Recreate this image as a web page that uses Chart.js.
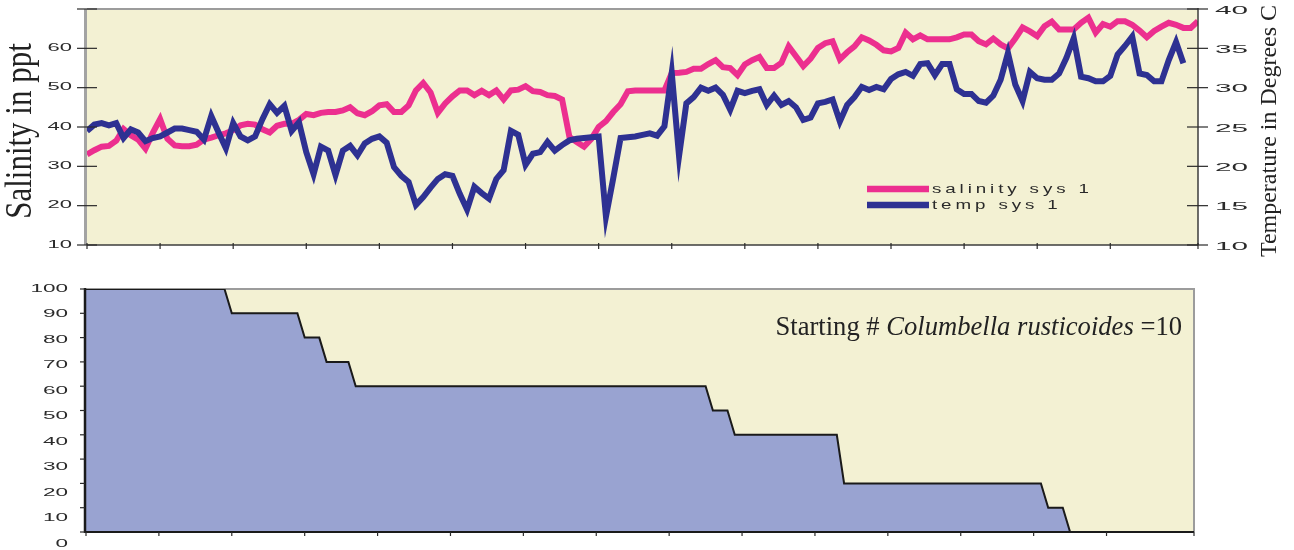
<!DOCTYPE html>
<html>
<head>
<meta charset="utf-8">
<script src="https://cdn.jsdelivr.net/npm/chart.js@4.4.1/dist/chart.umd.min.js"></script>
<style>
html, body { margin: 0; padding: 0; background: #fff; }
#wrap { position: relative; width: 1294px; height: 550px; overflow: hidden; }
#topChart { position: absolute; left: 0; top: 0; }
#bottomChart { position: absolute; left: 0; top: 270px; }
</style>
</head>
<body>
<div id="wrap">
  <canvas id="topChart" width="1294" height="260"></canvas>
  <canvas id="bottomChart" width="1294" height="280"></canvas>
</div>
<script>
// day index along the x axis (no labels in the original)
const days = Array.from({length: 153}, (_, i) => i);

const salinity = [
  33.0, 34.1, 35.0, 35.2, 36.5, 39.5, 37.9, 36.8, 34.5, 38.5,
  42.0, 37.0, 35.3, 35.1, 35.1, 35.5, 36.8, 37.3, 37.9, 38.4,
  39.2, 40.4, 40.8, 40.6, 39.4, 38.6, 40.3, 40.8, 40.8, 41.8,
  43.3, 43.0, 43.6, 43.8, 43.8, 44.2, 45.0, 43.5, 43.0, 44.0,
  45.5, 45.8, 43.8, 43.8, 45.5, 49.3, 51.2, 48.8, 43.6, 46.0,
  47.8, 49.3, 49.3, 48.1, 49.2, 48.1, 49.3, 47.0, 49.3, 49.5,
  50.4, 49.1, 48.9, 48.1, 47.9, 47.0, 37.5, 36.2, 35.0, 37.0,
  40.0, 41.5, 43.8, 45.8, 49.1, 49.3, 49.3, 49.3, 49.3, 49.3,
  53.7, 53.8, 54.0, 54.8, 54.8, 56.0, 57.0, 55.2, 55.0, 53.2,
  55.9, 57.0, 57.8, 55.0, 55.0, 56.3, 60.5, 58.0, 55.5, 57.4,
  60.1, 61.3, 61.8, 57.2, 59.0, 60.5, 62.8, 62.0, 60.9, 59.5,
  59.2, 60.1, 64.0, 62.3, 63.3, 62.3, 62.3, 62.3, 62.3, 62.8,
  63.5, 63.5, 61.8, 61.0, 62.5, 61.0, 60.0, 62.5, 65.3, 64.3,
  63.1, 65.6, 66.8, 64.8, 64.8, 64.8, 66.5, 67.8, 64.0, 66.2,
  65.5, 66.9, 66.9, 66.0, 64.5, 62.8, 64.4, 65.5, 66.5, 66.0,
  65.2, 65.2, 66.9
];

const temp = [
  24.5, 25.3, 25.5, 25.2, 25.5, 23.6, 24.7, 24.3, 23.2, 23.6,
  23.8, 24.3, 24.8, 24.8, 24.6, 24.4, 23.4, 26.4, 24.3, 22.3,
  25.5, 23.8, 23.3, 23.8, 26.0, 27.9, 26.8, 27.7, 24.5, 25.6,
  21.8, 19.0, 22.5, 22.0, 18.9, 22.0, 22.6, 21.4, 22.9, 23.5,
  23.8, 23.0, 19.9, 18.8, 18.0, 15.1, 16.1, 17.3, 18.4, 19.0,
  18.8, 16.5, 14.5, 17.4, 16.6, 15.9, 18.4, 19.5, 24.5, 24.0,
  20.2, 21.6, 21.8, 23.1, 22.0, 22.7, 23.3, 23.5, 23.6, 23.7,
  23.8, 13.6, 18.5, 23.6, 23.7, 23.8, 24.0, 24.2, 23.9, 25.1,
  31.9, 21.3, 28.0, 28.8, 30.0, 29.6, 30.0, 29.1, 27.2, 29.6,
  29.3, 29.6, 29.8, 27.8, 29.0, 27.8, 28.3, 27.5, 25.9, 26.2,
  28.0, 28.2, 28.5, 25.7, 27.8, 28.8, 30.1, 29.7, 30.1, 29.8,
  31.1, 31.7, 32.0, 31.5, 33.0, 33.1, 31.6, 33.0, 33.0, 29.8,
  29.2, 29.2, 28.3, 28.1, 29.0, 31.0, 34.4, 30.4, 28.3, 32.0,
  31.2, 31.0, 31.0, 31.8, 33.8, 36.3, 31.4, 31.2, 30.8, 30.8,
  31.5, 34.2, 35.3, 36.5, 31.8, 31.6, 30.8, 30.8, 33.5, 35.8,
  33.1
];

// survival (% of starting snails) at the days where it changes
const survivalDay = [0, 19, 20, 29, 30, 32, 33, 36, 37, 85, 86, 88, 89, 103, 104, 131, 132, 134, 135, 152];
const survivalPct = [100, 100, 90, 90, 80, 80, 70, 70, 60, 60, 50, 50, 40, 40, 20, 20, 10, 10, 0, 0];

const PLOT_BG = '#F3F1D3';
const PINK = '#EC2F8F';
const NAVY = '#2E3192';
const LAVENDER = '#99A3D1';
const INK = '#2a2a2a';

Chart.defaults.font.family = 'Liberation Sans';

function line(ctx, x1, y1, x2, y2, color, w) {
  ctx.save();
  ctx.strokeStyle = color;
  ctx.lineWidth = w;
  ctx.beginPath();
  ctx.moveTo(x1, y1);
  ctx.lineTo(x2, y2);
  ctx.stroke();
  ctx.restore();
}

// the original figure uses very wide lettering
function wideText(ctx, text, x, y, sx, align, font, spacing) {
  ctx.save();
  ctx.translate(x, y);
  ctx.scale(sx, 1);
  ctx.font = font;
  ctx.fillStyle = INK;
  ctx.textAlign = align;
  ctx.textBaseline = 'middle';
  if (spacing) ctx.letterSpacing = spacing + 'px';
  ctx.fillText(text, 0, 0);
  ctx.restore();
}

function fillArea(chart) {
  const {ctx, chartArea: a} = chart;
  ctx.save();
  ctx.fillStyle = PLOT_BG;
  ctx.fillRect(a.left, a.top, a.right - a.left, a.bottom - a.top);
  ctx.restore();
}

const topDecor = {
  id: 'topDecor',
  beforeDraw: fillArea,
  afterDraw(chart) {
    const {ctx, chartArea: a, scales} = chart;
    line(ctx, a.left, a.top, a.right, a.top, '#9c9c9c', 2);
    line(ctx, a.left - 1.5, a.top, a.left - 1.5, a.bottom, '#a3a3a3', 3);
    line(ctx, a.right, a.top - 1, a.right, a.bottom, '#3c3c3c', 1.5);
    line(ctx, a.left, a.bottom, a.right, a.bottom, '#3c3c3c', 1.5);

    scales.x.ticks.forEach(t => {
      const px = scales.x.getPixelForValue(t.value);
      line(ctx, px, a.bottom - 2, px, a.bottom + 4, INK, 1.2);
    });
    scales.y.ticks.forEach(t => {
      const py = scales.y.getPixelForValue(t.value);
      line(ctx, a.left - 10, py, a.left + 10, py, INK, 1.2);
      if (t.value < scales.y.max) wideText(ctx, String(t.value), a.left - 15, py, 2.2, 'right', '10px "Liberation Sans"');
    });
    scales.y1.ticks.forEach(t => {
      const py = scales.y1.getPixelForValue(t.value);
      line(ctx, a.right - 11, py, a.right + 10, py, INK, 1.2);
      wideText(ctx, String(t.value), a.right + 17, py + 1.5, 2.7, 'left', '11px "Liberation Sans"');
    });

    // axis titles
    ctx.save();
    ctx.fillStyle = '#222';
    ctx.font = '31px "Liberation Serif"';
    ctx.textAlign = 'center';
    ctx.textBaseline = 'middle';
    ctx.translate(21, (a.top + a.bottom) / 2 + 4);
    ctx.scale(1.25, 1);
    ctx.rotate(-Math.PI / 2);
    ctx.fillText('Salinity in ppt', 0, 0);
    ctx.restore();

    ctx.save();
    ctx.fillStyle = '#222';
    ctx.font = '24px "Liberation Serif"';
    ctx.textAlign = 'center';
    ctx.textBaseline = 'middle';
    ctx.translate(1270, 131);
    ctx.rotate(-Math.PI / 2);
    ctx.fillText('Temperature in Degrees C', 0, 0);
    ctx.restore();

    // legend
    const rows = [[chart.data.datasets[0], 189], [chart.data.datasets[1], 205]];
    rows.forEach(([ds, y]) => {
      line(ctx, 867, y, 929, y, ds.borderColor, 6.5);
      wideText(ctx, ds.label, 932, y + 1, 1.5, 'left', '12.5px "Liberation Sans"', 2.6);
    });
  }
};

new Chart(document.getElementById('topChart'), {
  type: 'line',
  data: {
    datasets: [
      {
        label: 'salinity sys 1',
        data: salinity.map((v, i) => ({x: days[i], y: v})),
        yAxisID: 'y',
        borderColor: PINK,
        borderWidth: 6,
        pointRadius: 0,
        order: 2,
      },
      {
        label: 'temp sys 1',
        data: temp.map((v, i) => ({x: days[i], y: v})),
        yAxisID: 'y1',
        borderColor: NAVY,
        borderWidth: 6,
        pointRadius: 0,
        order: 1,
      },
    ]
  },
  options: {
    responsive: false,
    animation: false,
    devicePixelRatio: 1,
    layout: { padding: { top: 9, left: 0, right: 0, bottom: 0 } },
    plugins: { legend: { display: false }, tooltip: { enabled: false } },
    scales: {
      x: {
        type: 'linear', min: 0, max: 152,
        ticks: { stepSize: 10, display: false },
        grid: { display: false }, border: { display: false },
        afterFit: s => { s.height = 15; },
      },
      y: {
        position: 'left', min: 10, max: 70,
        ticks: { stepSize: 10, display: false },
        grid: { display: false }, border: { display: false },
        afterFit: s => { s.width = 87; },
      },
      y1: {
        position: 'right', min: 10, max: 40,
        ticks: { stepSize: 5, display: false },
        grid: { display: false }, border: { display: false },
        afterFit: s => { s.width = 96; },
      },
    },
  },
  plugins: [topDecor],
});

const bottomDecor = {
  id: 'bottomDecor',
  beforeDraw: fillArea,
  beforeDatasetsDraw(chart) {
    const {ctx, chartArea: a} = chart;
    line(ctx, a.left, a.top, a.right + 1, a.top, '#9c9c9c', 2);
    line(ctx, a.right, a.top, a.right, a.bottom, '#9c9c9c', 2);
  },
  afterDatasetsDraw(chart) {
    const {ctx, chartArea: a, scales} = chart;
    line(ctx, a.left - 1, a.top - 1, a.left - 1, a.bottom + 1, '#1a1a1a', 2.5);
    line(ctx, a.left - 1, a.bottom, a.right, a.bottom, '#1a1a1a', 2);

    scales.x.ticks.forEach(t => {
      const px = scales.x.getPixelForValue(t.value);
      line(ctx, px, a.bottom, px, a.bottom + 4, INK, 1.2);
    });
    scales.y.ticks.forEach(t => {
      const py = scales.y.getPixelForValue(t.value);
      line(ctx, a.left - 6, py, a.left - 1, py, INK, 1.2);
      // labels in the original drift slightly below their ticks
      const ly = a.top + (py - a.top) * 1.05;
      wideText(ctx, String(t.value), a.left - 18, ly, 2.25, 'right', '10px "Liberation Sans"');
    });

    // note: Starting # Columbella rusticoides =10
    const parts = [
      ['Starting # ', '26.6px "Liberation Serif"'],
      ['Columbella rusticoides', 'italic 26.6px "Liberation Serif"'],
      [' =10', '26.6px "Liberation Serif"'],
    ];
    ctx.save();
    ctx.fillStyle = '#222';
    ctx.textBaseline = 'alphabetic';
    let total = 0;
    parts.forEach(([txt, f]) => { ctx.font = f; total += ctx.measureText(txt).width; });
    let x = 1182 - total;
    parts.forEach(([txt, f]) => {
      ctx.font = f;
      ctx.fillText(txt, x, 65);
      x += ctx.measureText(txt).width;
    });
    ctx.restore();
  }
};

new Chart(document.getElementById('bottomChart'), {
  type: 'line',
  data: {
    datasets: [{
      label: 'survival',
      data: survivalDay.map((d, i) => ({x: d, y: survivalPct[i]})),
      borderColor: '#1a1a1a',
      borderWidth: 2,
      backgroundColor: LAVENDER,
      fill: 'origin',
      pointRadius: 0,
    }]
  },
  options: {
    responsive: false,
    animation: false,
    devicePixelRatio: 1,
    layout: { padding: { top: 19, left: 0, right: 100, bottom: 0 } },
    plugins: { legend: { display: false }, tooltip: { enabled: false } },
    scales: {
      x: {
        type: 'linear', min: 0, max: 152,
        ticks: { stepSize: 10, display: false },
        grid: { display: false }, border: { display: false },
        afterFit: s => { s.height = 18; },
      },
      y: {
        min: 0, max: 100,
        ticks: { stepSize: 10, display: false },
        grid: { display: false }, border: { display: false },
        afterFit: s => { s.width = 86; },
      },
    },
  },
  plugins: [bottomDecor],
});
</script>
</body>
</html>
